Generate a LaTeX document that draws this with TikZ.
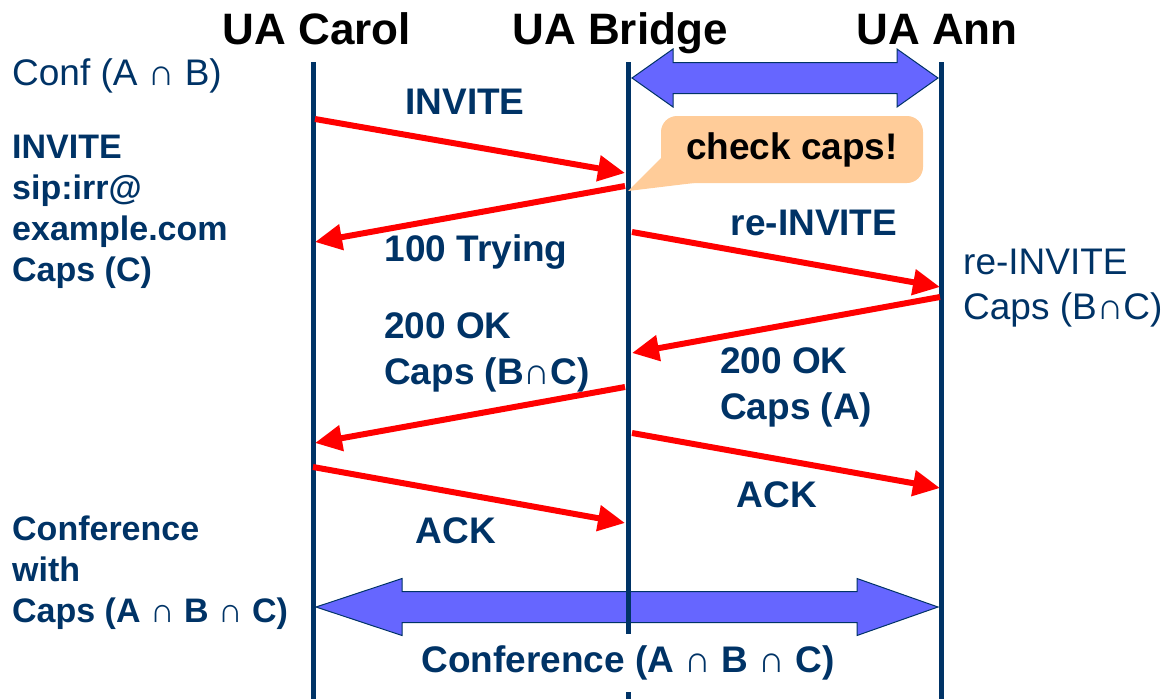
\documentclass[tikz,border=0pt]{standalone}
\usepackage{fontspec}
\setmainfont{Liberation Sans}
\usetikzlibrary{arrows.meta}
\definecolor{navy}{HTML}{003366}
\definecolor{arrowblue}{HTML}{6666FF}
\definecolor{peach}{HTML}{FFCC99}
\begin{document}
\begin{tikzpicture}[x=1pt,y=-1pt,
  lbl/.style={font=\fontsize{37}{41}\selectfont\bfseries, text=navy, inner sep=0pt, align=left},
  side/.style={font=\fontsize{34}{41}\selectfont\bfseries, text=navy, inner sep=0pt, align=left},
  plain/.style={font=\fontsize{37}{45}\selectfont, text=navy, inner sep=0pt, align=left},
  hdr/.style={font=\fontsize{44}{48}\selectfont\bfseries, text=black, inner sep=0pt},
  msg/.style={draw=red, line width=6pt, -{Triangle[length=27pt,width=25pt]}},
  life/.style={draw=navy, line width=5pt},
  bigarrow/.style={fill=arrowblue, draw=navy, line width=1pt, line join=miter}]
\useasboundingbox (0,0) rectangle (1175,699);

% headers
\node[hdr, anchor=base] (hC) at (317,44) {UA Carol};
\node[hdr, anchor=base] (hB) at (620,44) {UA Bridge};
\node[hdr, anchor=base] (hA) at (937,44) {UA Ann};

% double arrows
\draw[bigarrow] (632,78) -- (673,49) -- (673,62.5) -- (897,62.5) -- (897,49) -- (938,78)
  -- (897,107) -- (897,93.5) -- (673,93.5) -- (673,107) -- cycle;
\draw[bigarrow] (316,607) -- (402,578.5) -- (402,591.5) -- (857,591.5) -- (857,578.5) -- (938,607)
  -- (857,635.5) -- (857,622.5) -- (402,622.5) -- (402,635.5) -- cycle;

% lifelines
\coordinate (cT) at (313,62); \coordinate (cB) at (313,699);
\coordinate (bT) at (628,62); \coordinate (bB) at (628,699);
\coordinate (aT) at (941,62); \coordinate (aB) at (941,699);
\draw[life] (cT) -- (cB);
\draw[life] (bT) -- (bB);
\draw[life] (aT) -- (aB);

% bottom conference label (white background hides bridge line)
\node[lbl, fill=white, minimum height=58pt, inner xsep=2pt] (conf) at (628,663) {Conference (A ∩ B ∩ C)};

% callout
\fill[peach] (628,191) -- (664,155) -- (694,183) -- cycle;
\node[fill=peach, rounded corners=16pt, minimum width=262pt, minimum height=67pt, inner sep=0pt,
  font=\fontsize{37}{41}\selectfont\bfseries] (chk) at (792,149.5) {check caps!};

% message endpoints
\coordinate (m1s) at (315,119); \coordinate (m1e) at (625,173);
\coordinate (m2s) at (625,186); \coordinate (m2e) at (315,242);
\coordinate (m3s) at (632,232); \coordinate (m3e) at (940,287);
\coordinate (m4s) at (940,297); \coordinate (m4e) at (632,353);
\coordinate (m5s) at (625,387); \coordinate (m5e) at (315,443);
\coordinate (m6s) at (632,433); \coordinate (m6e) at (940,488);
\coordinate (m7s) at (313,467); \coordinate (m7e) at (625,523);
\draw[msg] (m1s) -- (m1e);
\draw[msg] (m2s) -- (m2e);
\draw[msg] (m3s) -- (m3e);
\draw[msg] (m4s) -- (m4e);
\draw[msg] (m5s) -- (m5e);
\draw[msg] (m6s) -- (m6e);
\draw[msg] (m7s) -- (m7e);

% message labels
\node[lbl, anchor=base] (l1) at (465,114) {INVITE};
\node[lbl, anchor=base] (l2) at (476,261) {100 Trying};
\node[lbl, anchor=base] (l3) at (814,235) {re-INVITE};
\node[lbl, anchor=base west, font=\fontsize{37}{46}\selectfont\bfseries] (l4) at (720,419) {200 OK\\Caps (A)};
\node[lbl, anchor=base west, font=\fontsize{37}{46}\selectfont\bfseries] (l5) at (384,384) {200 OK\\Caps (B∩C)};
\node[lbl, anchor=base] (l6) at (777,507) {ACK};
\node[lbl, anchor=base] (l7) at (456,543) {ACK};

% side texts
\node[plain, anchor=base west] (t1) at (12,85) {Conf (A ∩ B)};
\node[side, anchor=base west] (t2) at (12,281) {INVITE\\sip:irr@\\example.com\\Caps (C)};
\node[plain, anchor=base west] (t3) at (963,319) {re-INVITE\\Caps (B∩C)};
\node[side, anchor=base west] (t4) at (12,622) {Conference\\with\\Caps (A ∩ B ∩ C)};
\end{tikzpicture}
\end{document}
